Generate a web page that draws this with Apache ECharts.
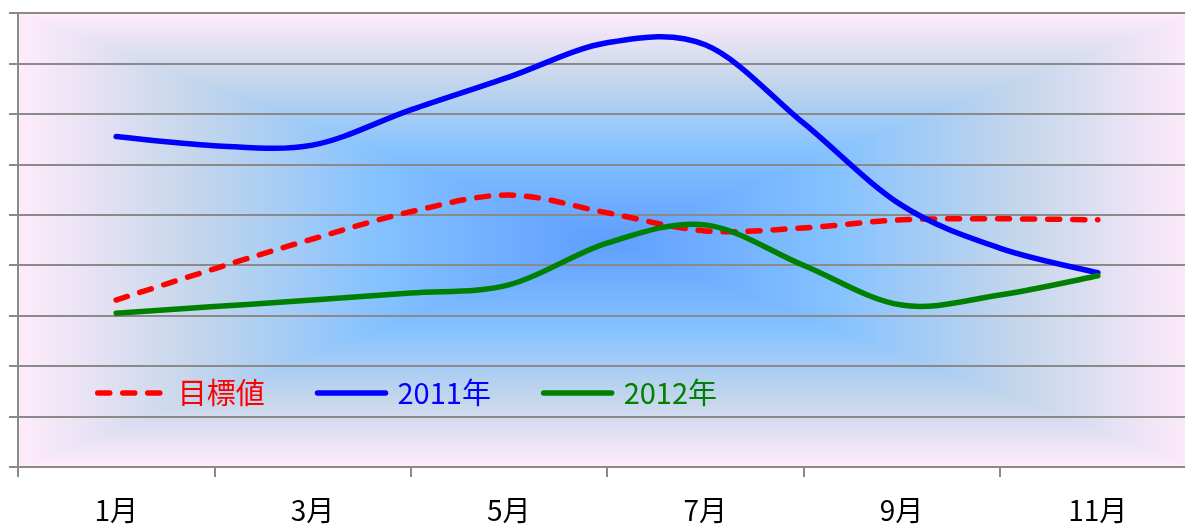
<!DOCTYPE html>
<html>
<head>
<meta charset="utf-8">
<script src="https://cdn.jsdelivr.net/npm/echarts@6/dist/echarts.min.js"></script>
<style>
html,body{margin:0;padding:0;background:#fff;}
#c{width:1185px;height:525px;}
</style>
</head>
<body>
<div id="c"></div>
<script>
const months = ['1月','2月','3月','4月','5月','6月','7月','8月','9月','10月','11月'];
const target = [33.1, 39.3, 45.2, 50.6, 53.9, 50.4, 46.8, 47.4, 49.0, 49.2, 49.0];
const y2011  = [65.5, 63.7, 63.8, 70.8, 77.3, 84.1, 83.7, 68.2, 51.9, 43.4, 38.5];
const y2012  = [30.5, 31.8, 33.1, 34.5, 36.1, 44.4, 48.0, 40.0, 32.1, 34.1, 37.9];
const seriesNames = ['目標値','2011年','2012年'];
const seriesColors = ['#ff0000','#0000ff','#008000'];
const seriesValues = [target, y2011, y2012];

const G = {left: 18, top: 13, width: 1178, height: 454};
const L = G.left, T = G.top, R = G.left + G.width, B = G.top + G.height;
const cx = (L + R) / 2, cy = (T + B) / 2;
const stopsEdgeToCenter = [
  {offset: 0, color: '#FFEBFA'},
  {offset: 0.30, color: '#C4D6EB'},
  {offset: 0.61, color: '#85C2FF'},
  {offset: 1, color: '#5E9EFF'}
];
const stopsVertical = [
  {offset: 0, color: '#FFEBFA'},
  {offset: 0.15, color: '#C4D6EB'},
  {offset: 0.305, color: '#85C2FF'},
  {offset: 0.5, color: '#5E9EFF'},
  {offset: 0.695, color: '#85C2FF'},
  {offset: 0.85, color: '#C4D6EB'},
  {offset: 1, color: '#FFEBFA'}
];
const bg = [
  {type: 'rect', shape: {x: L, y: T, width: R - L, height: B - T},
   style: {fill: {type: 'linear', x: 0, y: 0, x2: 0, y2: 1, colorStops: stopsVertical}}},
  {type: 'polygon', shape: {points: [[L,T],[L,B],[cx,cy]]},
   style: {fill: {type: 'linear', x: 0, y: 0, x2: 1, y2: 0, colorStops: stopsEdgeToCenter}}},
  {type: 'polygon', shape: {points: [[R,T],[R,B],[cx,cy]]},
   style: {fill: {type: 'linear', x: 1, y: 0, x2: 0, y2: 0, colorStops: stopsEdgeToCenter}}}
].map((e, i) => Object.assign(e, {silent: true, z: -10 + i}));

const font = "'Noto Sans CJK JP', sans-serif";
const gridColor = '#8a8a8a';
const LW = 5.5;
const DASH = [12, 13];

function mk(vals) { return vals.map((v, i) => [i + 1, v]); }

// Excel-like smoothed curve (Catmull-Rom style Bezier) through the data points
function curvePath(pts) {
  let d = 'M' + pts[0][0] + ' ' + pts[0][1];
  for (let i = 0; i < pts.length - 1; i++) {
    const p0 = pts[i - 1] || pts[i], p1 = pts[i], p2 = pts[i + 1], p3 = pts[i + 2] || pts[i + 1];
    const c1x = p1[0] + (p2[0] - p0[0]) / 6, c1y = p1[1] + (p2[1] - p0[1]) / 6;
    const c2x = p2[0] - (p3[0] - p1[0]) / 6, c2y = p2[1] - (p3[1] - p1[1]) / 6;
    d += ' C' + c1x + ' ' + c1y + ' ' + c2x + ' ' + c2y + ' ' + p2[0] + ' ' + p2[1];
  }
  return d;
}

const lineSeries = seriesNames.map((n, k) => ({
  name: n, type: 'line', data: mk(seriesValues[k]),
  symbol: 'circle', showSymbol: false, color: seriesColors[k],
  lineStyle: {width: LW, color: seriesColors[k], opacity: 0, cap: 'round', type: k === 0 ? DASH : 'solid'},
  z: 1
}));
const curveSeries = seriesNames.map((n, k) => ({
  name: '_curve' + k, type: 'custom', data: mk(seriesValues[k]),
  encode: {x: 0, y: 1}, z: 3, silent: true,
  renderItem: function (params, api) {
    if (params.dataIndex !== 0) return null;
    const pts = seriesValues[k].map((v, i) => api.coord([i + 1, v]));
    return {
      type: 'path',
      shape: {pathData: curvePath(pts)},
      style: {
        fill: 'none', stroke: seriesColors[k], lineWidth: LW, lineCap: 'round', lineJoin: 'round',
        lineDash: k === 0 ? DASH : null
      }
    };
  }
}));

const chart = echarts.init(document.getElementById('c'), null, {renderer: 'canvas'});
chart.setOption({
  animation: false,
  backgroundColor: '#ffffff',
  graphic: {elements: bg},
  grid: {left: G.left, top: G.top, width: G.width, height: G.height, containLabel: false, outerBoundsMode: 'none'},
  legend: {
    left: 95, top: 378, padding: 0,
    itemWidth: 68, itemHeight: 5, itemGap: 50,
    lineStyle: {width: LW, opacity: 1},
    textStyle: {fontSize: 29, fontFamily: font, lineHeight: 30, padding: [0, 0, 0, 7]},
    data: seriesNames.map((n, i) => ({name: n, textStyle: {color: seriesColors[i]}}))
  },
  xAxis: [
    {
      type: 'value', min: 0, max: 12, interval: 2, position: 'bottom',
      axisLine: {show: true, lineStyle: {color: gridColor, width: 2}},
      axisTick: {show: true, length: 10, lineStyle: {color: gridColor, width: 2}},
      axisLabel: {show: false}, splitLine: {show: false}
    },
    {
      type: 'value', min: 0, max: 12, interval: 1, position: 'bottom',
      axisLine: {show: false}, axisTick: {show: false}, splitLine: {show: false},
      axisLabel: {
        show: true, margin: 29, fontSize: 28, color: '#000', fontFamily: font,
        formatter: v => (v % 2 === 1 && months[v - 1]) ? months[v - 1] : ''
      }
    }
  ],
  yAxis: {
    type: 'value', min: 0, max: 90, interval: 10,
    axisLine: {show: true, lineStyle: {color: gridColor, width: 2}},
    axisTick: {show: true, length: 9, lineStyle: {color: gridColor, width: 2}},
    axisLabel: {show: false},
    splitLine: {show: true, lineStyle: {color: gridColor, width: 2}}
  },
  series: lineSeries.concat(curveSeries)
});
</script>
</body>
</html>
